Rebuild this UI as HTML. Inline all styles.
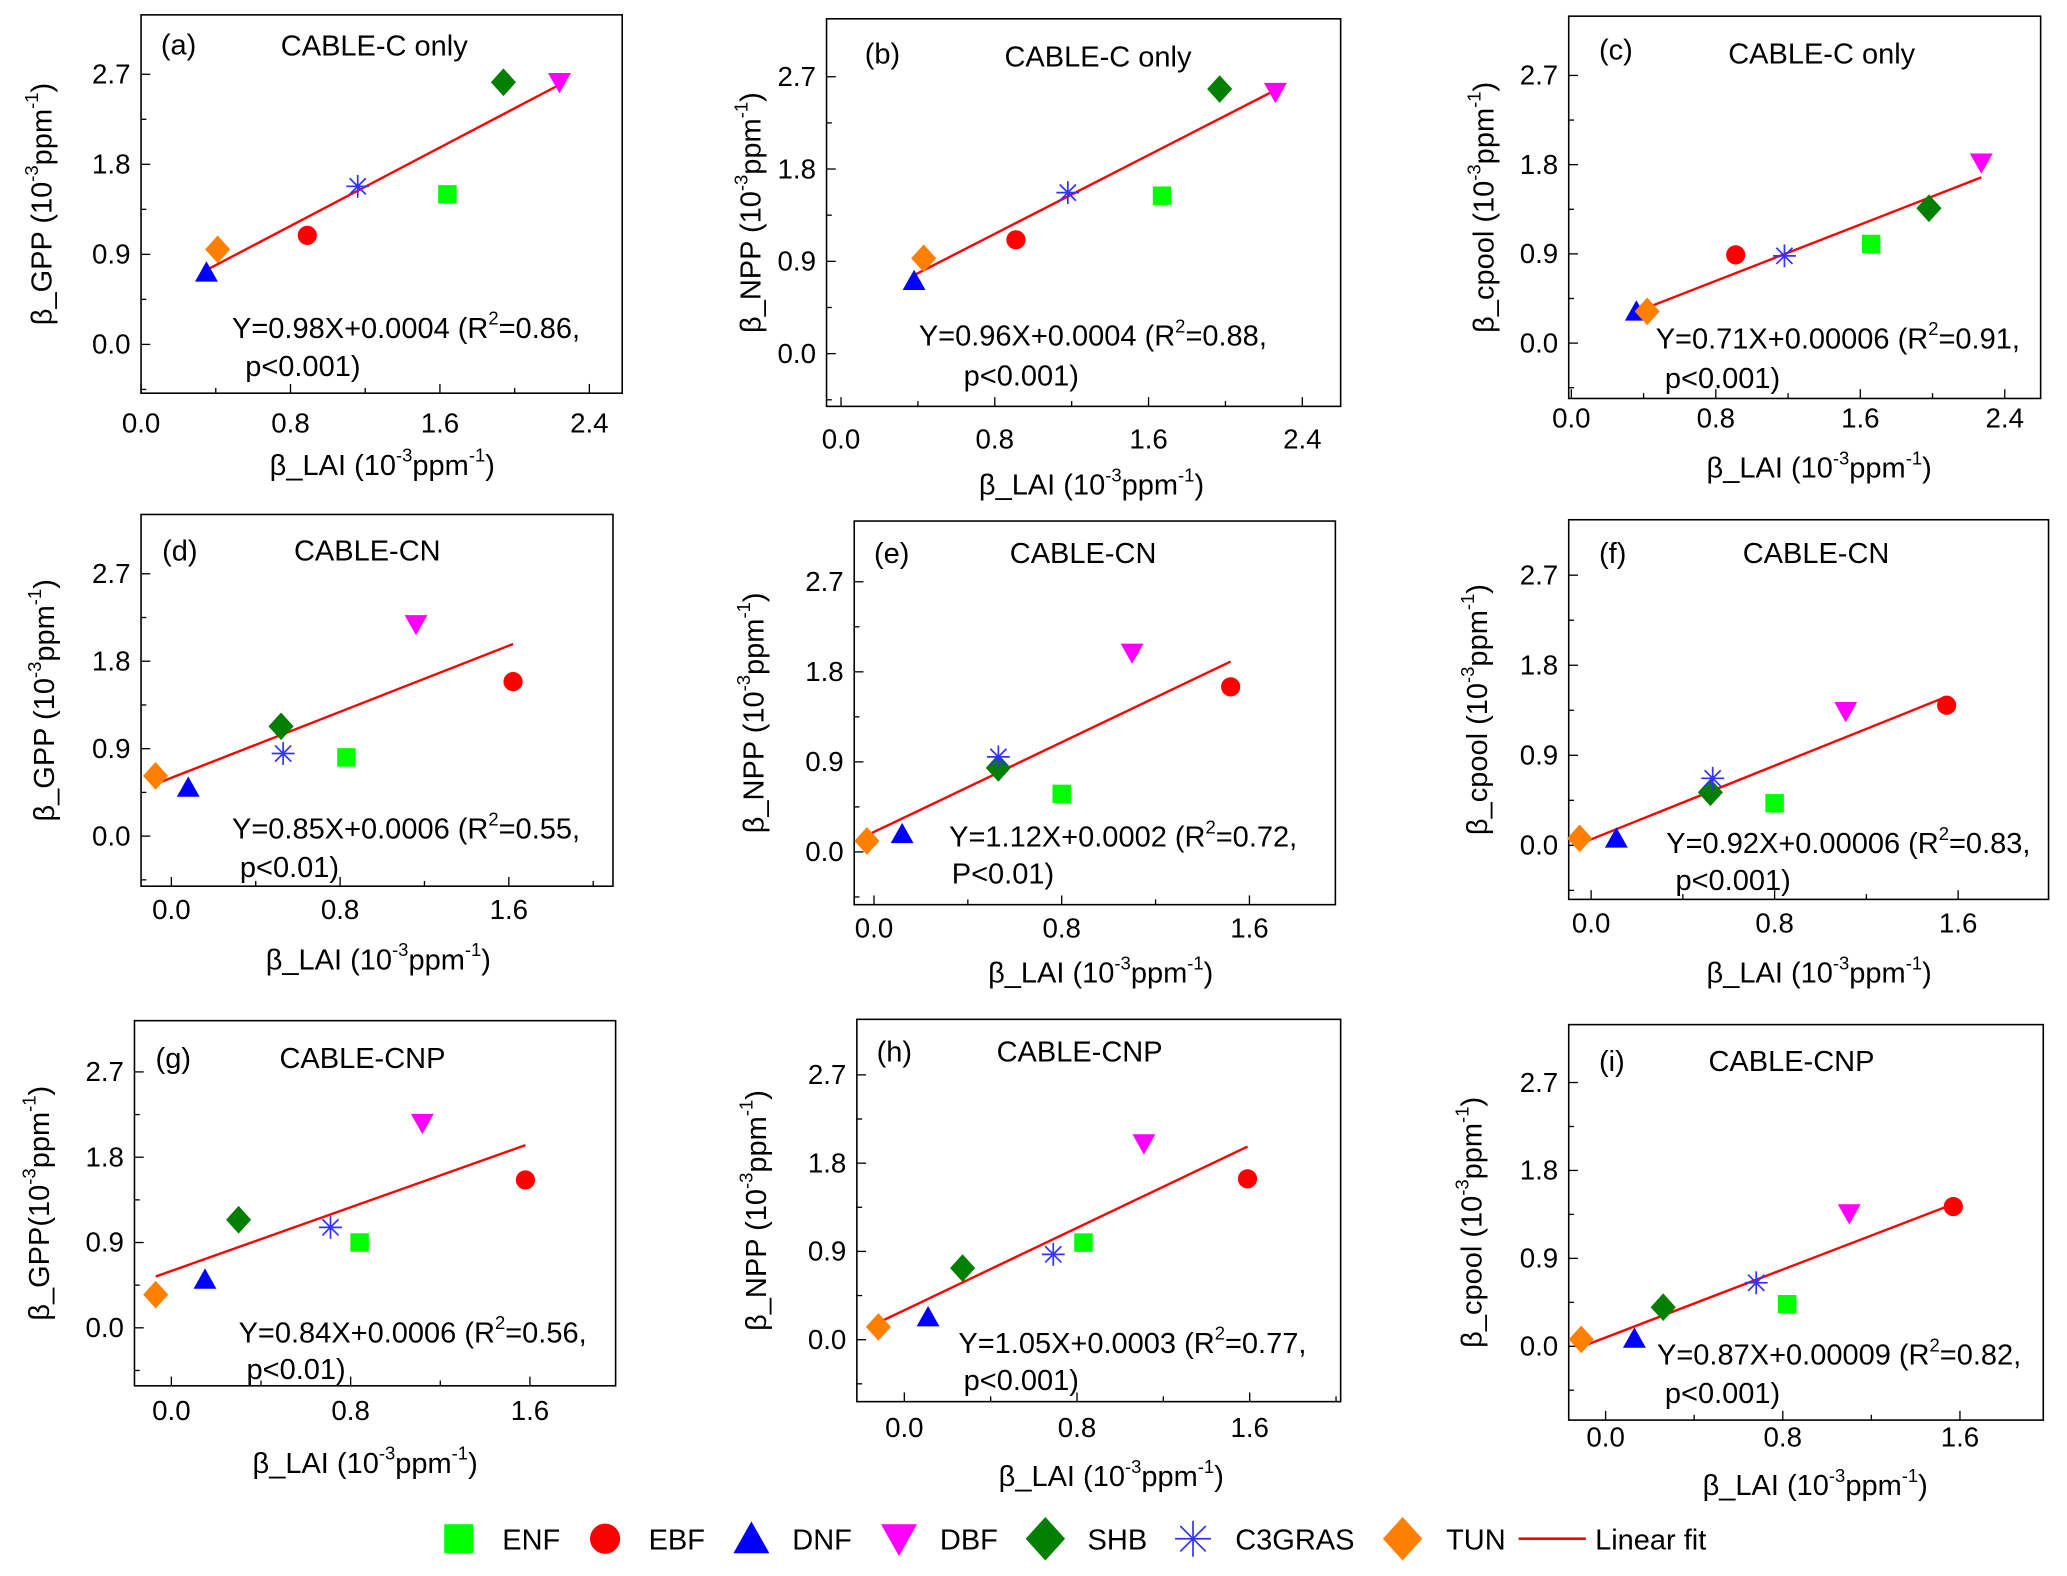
<!DOCTYPE html>
<html><head><meta charset="utf-8"><style>
html,body{margin:0;padding:0;background:#fff;}
svg{display:block;}
text{font-family:"Liberation Sans",Arial,sans-serif;fill:#000;}
</style></head><body>
<svg id="fig" width="2067" height="1576" viewBox="0 0 1568 1195" xmlns="http://www.w3.org/2000/svg"></svg>
<script>
// ---- data (values in 10^-3 ppm^-1) ----
const pfts = ["ENF","EBF","DNF","DBF","SHB","C3GRAS","TUN"];
const colors = ["#00ff00","#ff0000","#0000ff","#ff00ff","#007f00","#3333ff","#ff8000"];
const lai_a = [1.64,0.89,0.35,2.24,1.94,1.16,0.41];
const gpp_a = [1.50,1.09,0.72,2.62,2.62,1.58,0.95];
const lai_b = [1.67,0.91,0.38,2.26,1.97,1.18,0.43];
const npp_b = [1.54,1.11,0.71,2.55,2.58,1.57,0.93];
const lai_c = [1.66,0.91,0.36,2.27,1.98,1.18,0.42];
const cpool_c = [1.00,0.89,0.32,1.82,1.36,0.88,0.32];
const lai_d = [0.83,1.62,0.08,1.16,0.52,0.53,-0.075];
const gpp_d = [0.81,1.59,0.50,2.18,1.13,0.85,0.62];
const lai_e = [0.80,1.52,0.12,1.10,0.53,0.53,-0.03];
const npp_e = [0.58,1.65,0.18,1.99,0.84,0.95,0.11];
const lai_f = [0.80,1.55,0.11,1.11,0.52,0.53,-0.05];
const cpool_f = [0.42,1.40,0.07,1.34,0.53,0.67,0.07];
const lai_g = [0.84,1.58,0.15,1.12,0.30,0.71,-0.07];
const gpp_g = [0.90,1.56,0.51,2.16,1.14,1.06,0.35];
const lai_h = [0.83,1.59,0.11,1.11,0.27,0.69,-0.12];
const npp_h = [0.99,1.64,0.23,2.00,0.73,0.87,0.13];
const lai_i = [0.82,1.57,0.13,1.10,0.26,0.68,-0.11];
const cpool_i = [0.43,1.43,0.08,1.36,0.40,0.65,0.07];
const slopes = [0.98,0.96,0.71,0.85,1.12,0.92,0.84,1.05,0.87];
const intercepts = [0.4,0.4,0.06,0.6,0.2,0.06,0.6,0.3,0.09];
const interceptLabels = ["0.0004","0.0004","0.00006","0.0006","0.0002","0.00006","0.0006","0.0003","0.00009"];
const yTicks = [0.0,0.9,1.8,2.7];
const xTicksTop = [0.0,0.8,1.6,2.4];
const xTicksLow = [0.0,0.8,1.6];

const NS="http://www.w3.org/2000/svg";
const svg=document.getElementById('fig');
function el(tag,attrs,parent){const e=document.createElementNS(NS,tag);for(const k in attrs)e.setAttribute(k,attrs[k]);(parent||svg).appendChild(e);return e;}

const panels=[
 {id:'a',box:[107,11,472,298],x0:107,kx:141.7,y0:261,ky:75.9,xs:lai_a,ys:gpp_a,xt:xTicksTop,title:'CABLE-C only',yl:'GPP',ylsp:' ',lp:[122,41],tp:[213,42],eq:[176,256],pp:[186,285],ylx:32,xlc:290,xlb:360,tkb:328,p:'p<0.001)',r2:'0.86'},
 {id:'b',box:[627,14,1017,308],x0:638,kx:145.8,y0:268,ky:77.8,xs:lai_b,ys:npp_b,xt:xTicksTop,title:'CABLE-C only',yl:'NPP',ylsp:' ',lp:[656,48],tp:[762,50],eq:[697,262],pp:[731,292],ylx:570,xlc:828,xlb:375,tkb:340,p:'p<0.001)',r2:'0.88'},
 {id:'c',box:[1190,12,1548,302],x0:1192,kx:137,y0:260,ky:75.2,xs:lai_c,ys:cpool_c,xt:xTicksTop,title:'CABLE-C only',yl:'cpool',ylsp:' ',lp:[1213,45],tp:[1311,48],eq:[1256,264],pp:[1263,294],ylx:1126,xlc:1380,xlb:362,tkb:324,p:'p<0.001)',r2:'0.91'},
 {id:'d',box:[107,390,465,672],x0:130,kx:160,y0:634,ky:73.7,xs:lai_d,ys:gpp_d,xt:xTicksLow,title:'CABLE-CN',yl:'GPP',ylsp:' ',lp:[123,425],tp:[223,425],eq:[176,636],pp:[182,665],ylx:34,xlc:287,xlb:735,tkb:697,p:'p<0.01)',r2:'0.55'},
 {id:'e',box:[648,395,1013,686],x0:663,kx:178,y0:646,ky:75.9,xs:lai_e,ys:npp_e,xt:xTicksLow,title:'CABLE-CN',yl:'NPP',ylsp:' ',lp:[663,427],tp:[766,427],eq:[720,642],pp:[722,670],ylx:572,xlc:835,xlb:745,tkb:711,p:'P<0.01)',r2:'0.72'},
 {id:'f',box:[1190,394,1554,682],x0:1207,kx:174,y0:641,ky:75.9,xs:lai_f,ys:cpool_f,xt:xTicksLow,title:'CABLE-CN',yl:'cpool',ylsp:' ',lp:[1213,427],tp:[1322,427],eq:[1264,647],pp:[1271,675],ylx:1121,xlc:1380,xlb:745,tkb:707,p:'p<0.001)',r2:'0.83'},
 {id:'g',box:[102,774,467,1051],x0:130,kx:170,y0:1007,ky:71.9,xs:lai_g,ys:gpp_g,xt:xTicksLow,title:'CABLE-CNP',yl:'GPP',ylsp:'',lp:[118,810],tp:[212,810],eq:[181,1018],pp:[187,1046],ylx:30,xlc:277,xlb:1117,tkb:1077,p:'p<0.01)',r2:'0.56'},
 {id:'h',box:[650,773,1017,1063],x0:686,kx:163.75,y0:1016,ky:74.4,xs:lai_h,ys:npp_h,xt:xTicksLow,title:'CABLE-CNP',yl:'NPP',ylsp:' ',lp:[665,805],tp:[756,805],eq:[727,1026],pp:[731,1054],ylx:574,xlc:843,xlb:1127,tkb:1090,p:'p<0.001)',r2:'0.77'},
 {id:'i',box:[1190,777,1550,1077],x0:1218,kx:168,y0:1021,ky:74.1,xs:lai_i,ys:cpool_i,xt:xTicksLow,title:'CABLE-CNP',yl:'cpool',ylsp:' ',lp:[1213,812],tp:[1296,812],eq:[1257,1035],pp:[1263,1064],ylx:1117,xlc:1377,xlb:1134,tkb:1097,p:'p<0.001)',r2:'0.82'}
];

function marker(g,k,cx,cy,s){
  const c=colors[k];let m;
  if(k===0){m=el('rect',{x:cx-s*0.5,y:cy-s*0.5,width:s,height:s,fill:c},g);}
  else if(k===1){m=el('circle',{cx:cx,cy:cy,r:s*0.52,fill:c},g);}
  else if(k===2){m=el('polygon',{points:`${cx-s*0.62},${cy+s*0.5} ${cx+s*0.62},${cy+s*0.5} ${cx},${cy-s*0.6}`,fill:c},g);}
  else if(k===3){m=el('polygon',{points:`${cx-s*0.62},${cy-s*0.5} ${cx+s*0.62},${cy-s*0.5} ${cx},${cy+s*0.6}`,fill:c},g);}
  else if(k===4||k===6){m=el('polygon',{points:`${cx},${cy-s*0.75} ${cx+s*0.68},${cy} ${cx},${cy+s*0.75} ${cx-s*0.68},${cy}`,fill:c},g);}
  else {m=el('g',{stroke:c,'stroke-width':1.3},g);const r=s*0.62;
    for(let a=0;a<4;a++){const t=a*Math.PI/4;el('line',{x1:cx-r*Math.cos(t),y1:cy-r*Math.sin(t),x2:cx+r*Math.cos(t),y2:cy+r*Math.sin(t)},m);}}
  return m;
}

panels.forEach((P,pi)=>{
  const g=el('g',{});
  
  
  const [L,T,R,B]=P.box;
  const X=v=>P.x0+v*P.kx, Y=v=>P.y0-v*P.ky;
  const frame=el('rect',{x:L,y:T,width:R-L,height:B-T,fill:'none',stroke:'#000','stroke-width':1.2},g);
  
  
  yTicks.forEach((v,i)=>{
    el('line',{x1:L,y1:Y(v),x2:L+7,y2:Y(v),stroke:'#000','stroke-width':1},g);
    if(i<yTicks.length-1){const mv=v+0.45;el('line',{x1:L,y1:Y(mv),x2:L+4,y2:Y(mv),stroke:'#000','stroke-width':1},g);}
    const t=el('text',{x:L-8,y:Y(v)+7,'font-size':21,'text-anchor':'end'},g);t.textContent=v.toFixed(1);
    
    
  });
  el('line',{x1:L,y1:Y(-0.45),x2:L+4,y2:Y(-0.45),stroke:'#000','stroke-width':1},g);
  P.xt.forEach((v,i)=>{
    el('line',{x1:X(v),y1:B,x2:X(v),y2:B-7,stroke:'#000','stroke-width':1},g);
    const mv=v+0.4; if(X(mv)<R-2) el('line',{x1:X(mv),y1:B,x2:X(mv),y2:B-4,stroke:'#000','stroke-width':1},g);
    const t=el('text',{x:X(v),y:P.tkb,'font-size':21,'text-anchor':'middle'},g);t.textContent=v.toFixed(1);
    
    
  });
  const xmin=Math.min(...P.xs),xmax=Math.max(...P.xs);
  const fl=el('line',{x1:X(xmin),y1:Y(slopes[pi]*xmin+intercepts[pi]),x2:X(xmax),y2:Y(slopes[pi]*xmax+intercepts[pi]),stroke:'#ff0000','stroke-width':1.8},g);
  
  
  P.xs.forEach((v,k)=>{
    const m=marker(g,k,X(v),Y(P.ys[k]),14);
    
    
  });
  const lt=el('text',{x:P.lp[0],y:P.lp[1],'font-size':22},g);lt.textContent='('+P.id+')';
  
  
  const tt=el('text',{x:P.tp[0],y:P.tp[1],'font-size':22},g);tt.textContent=P.title;
  
  
  const eq=el('text',{x:P.eq[0],y:P.eq[1],'font-size':22},g);
  eq.innerHTML=`Y=${slopes[pi].toFixed(2)}X+${interceptLabels[pi]} (R<tspan font-size="14" dy="-10">2</tspan><tspan dy="10">=${P.r2},</tspan>`;
  
  
  const pt=el('text',{x:P.pp[0],y:P.pp[1],'font-size':22},g);pt.textContent=P.p;
  
  
  const xl=el('text',{x:P.xlc,y:P.xlb,'font-size':22,'text-anchor':'middle'},g);
  xl.innerHTML='β_LAI (10<tspan font-size="14" dy="-10">-3</tspan><tspan dy="10">ppm</tspan><tspan font-size="14" dy="-10">-1</tspan><tspan dy="10">)</tspan>';
  
  
  const cy=(T+B)/2;
  const yl=el('text',{x:0,y:0,'font-size':22,'text-anchor':'middle',transform:`translate(${P.ylx+7},${cy}) rotate(-90)`},g);
  yl.innerHTML=`β_${P.yl}${P.ylsp}(10<tspan font-size="14" dy="-10">-3</tspan><tspan dy="10">ppm</tspan><tspan font-size="14" dy="-10">-1</tspan><tspan dy="10">)</tspan>`;
  
  
});

const leg=el('g',{});


const legMx=[348,459,570,682,793,905,1064];
const legTx=[381,492,601,713,825,937,1097];
pfts.forEach((p,k)=>{
  const m=marker(leg,k,legMx[k],1167,22);
  
  
  const t=el('text',{x:legTx[k],y:1175,'font-size':22},leg);t.textContent=p;
  
  
});
const ll=el('line',{x1:1152,y1:1167,x2:1203,y2:1167,stroke:'#ff0000','stroke-width':2},leg);


const lt=el('text',{x:1210,y:1175,'font-size':22},leg);lt.textContent='Linear fit';


</script>
</body></html>
